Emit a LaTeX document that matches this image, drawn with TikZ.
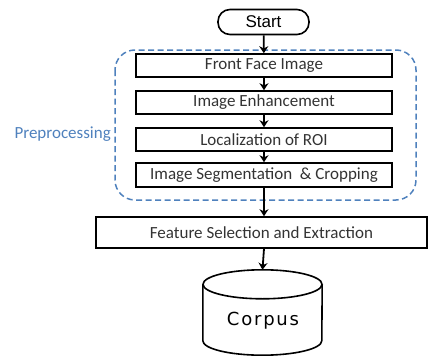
\documentclass[tikz,border=0pt]{standalone}
\usepackage{fontspec}
\setmainfont{Carlito}
\newfontfamily\arialf{Liberation Sans}
\newfontfamily\widef[LetterSpace=10]{DejaVu Sans}
\usetikzlibrary{arrows.meta,calc}
\definecolor{preblue}{RGB}{79,129,189}
\begin{document}
\begin{tikzpicture}[x=1pt,y=-1pt,
  box/.style={draw, line width=1.6pt, minimum height=23pt, minimum width=256pt, inner sep=0pt,
    font=\fontsize{17}{17}\selectfont, text=black!80},
  arr/.style={-{Stealth[length=7pt,width=9pt]}, line width=1.8pt},
  edge/.style={line width=1.6pt}]
\useasboundingbox (0,0) rectangle (429,356);
% start
\node[draw, line width=1.6pt, rounded corners=12pt, minimum width=91pt, minimum height=25pt,
  inner sep=0pt, font=\arialf\fontsize{17}{17}\selectfont] (start) at (263.5,22) {Start};
% dashed preprocessing group
\draw[preblue, line width=1.5pt, dash pattern=on 6pt off 3.5pt, rounded corners=20pt]
  (115,50) rectangle (416,200);
\node[anchor=east, text=preblue, inner sep=0pt, font=\fontsize{17}{17}\selectfont] (pre) at (111,134) {Preprocessing};
% steps
\node[box] (front) at (264,65.5) {Front Face Image};
\node[box] (enh) at (264,102.5) {Image Enhancement};
\node[box] (loc) at (264,139.5) {Localization of ROI};
\node[box, minimum height=24pt] (seg) at (264,175) {Image Segmentation\ \ \& Cropping};
\node[box, minimum width=331pt, minimum height=31pt] (feat) at (261.5,232.5) {Feature Selection and Extraction};
% corpus cylinder
\node[minimum width=119pt, minimum height=85pt, inner sep=0pt] (corpus) at (262.5,312.5) {};
\draw[edge] ($(corpus.north)+(0,14.5)$) ellipse [x radius=59.5, y radius=14.5];
\draw[edge] ($(corpus.north west)+(0,14.5)$) -- ($(corpus.south west)+(0,-14.5)$)
  arc[start angle=180, end angle=0, x radius=59.5, y radius=14.5]
  -- ($(corpus.north east)+(0,14.5)$);
\node[font=\widef\fontsize{18}{18}\selectfont, inner sep=0pt] (corpuslabel) at (263,321) {Corpus};
% arrows
\draw[arr] (start) -- (front);
\draw[arr] (front) -- (enh);
\draw[arr] (enh) -- (loc);
\draw[arr] (loc) -- (seg);
\draw[arr] (seg) -- (seg |- feat.north);
\draw[arr] (feat.south -| seg.south) -- (corpus.north);
\end{tikzpicture}
\end{document}
